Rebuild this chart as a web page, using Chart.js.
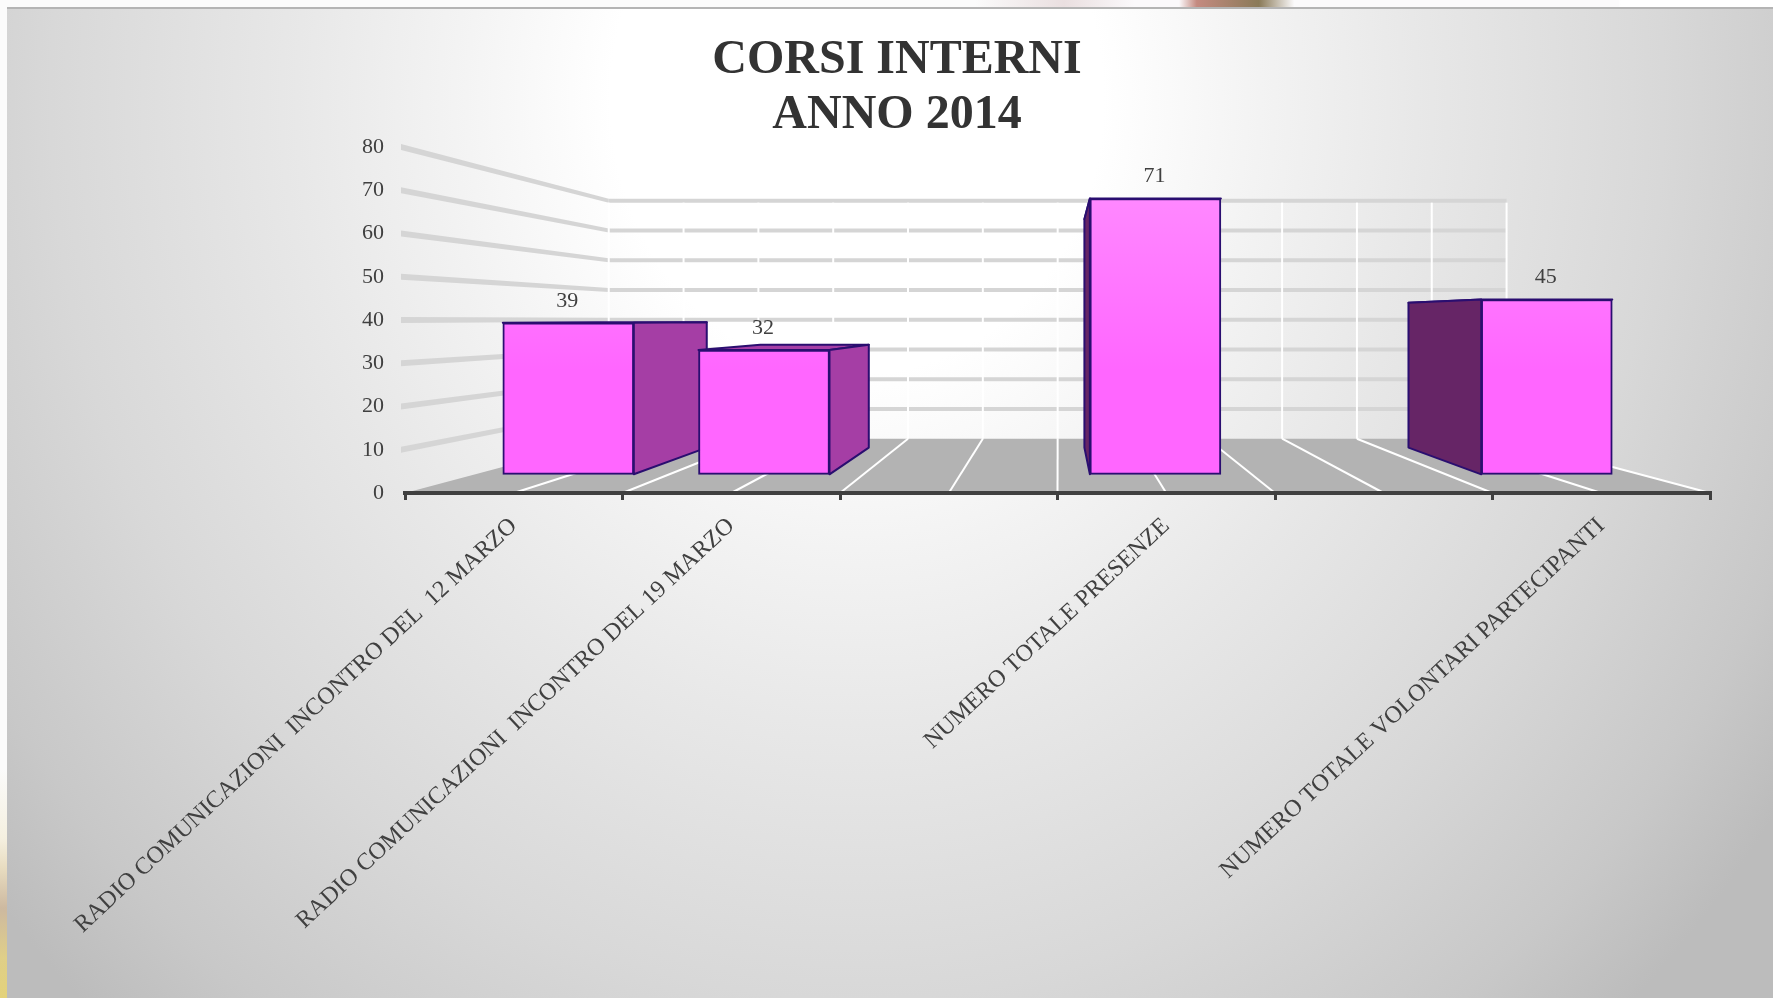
<!DOCTYPE html>
<html>
<head>
<meta charset="utf-8">
<script src="https://cdn.jsdelivr.net/npm/chart.js@4"></script>
<style>
html,body{margin:0;padding:0;width:1773px;height:998px;overflow:hidden;background:#fff}
#topStrip{position:absolute;left:0;top:0;width:1773px;height:7px;background:linear-gradient(90deg,#fbfbfb 0,#fbfbfb 55%,#eadfe0 60%,#fbf9fb 64%,#fbf9fb 66.5%,#c48a80 67.5%,#8a7a58 71%,#fbfafb 73%,#fbfafb 91.3%,#ffffff 91.4%)}
#leftStrip{position:absolute;left:0;top:0;width:7px;height:998px;background:linear-gradient(180deg,#fbfbfb 0,#fbfbfb 77%,#f5f0e0 84%,#e8dcc0 87%,#cdb9a0 91%,#e0cf88 96%,#e3d27a 100%)}
#panel{position:absolute;left:7px;top:7px;width:1766px;height:991px;background:radial-gradient(ellipse 1120px 1250px at 850px 90px,#ffffff 0,#ffffff 22%,#f3f3f3 36%,#e8e8e8 50%,#d8d8d8 72%,#c8c8c8 90%,#bcbcbc 100%);border-top:2px solid #b4b4b4;box-sizing:border-box}
canvas{position:absolute;left:0;top:0}
</style>
</head>
<body>
<div id="topStrip"></div>
<div id="leftStrip"></div>
<div id="panel"></div>
<canvas id="c" width="1773" height="998"></canvas>
<script>
const titleLines = ["CORSI INTERNI", "ANNO 2014"];
const categories = [
  "RADIO COMUNICAZIONI  INCONTRO DEL  12 MARZO",
  "RADIO COMUNICAZIONI  INCONTRO DEL 19 MARZO",
  "",
  "NUMERO TOTALE PRESENZE",
  "",
  "NUMERO TOTALE VOLONTARI PARTECIPANTI"
];
const values = [39, 32, null, 71, null, 45];
const yTicksMax = 80;
const yTicksStep = 10;

const SERIF = "'Liberation Serif', serif";
const TEXT = "#404040";
const GRID = "#d5d5d5";
const VP = {x: 1058, y: 319};      // vanishing point of the 3D view
const ROOM_DEPTH = 0.688;          // scale of the back wall
const BAR_DEPTH = 0.828;           // scale of the back of each bar
const project = (x, y, s) => [VP.x + s * (x - VP.x), VP.y + s * (y - VP.y)];

function poly(ctx, pts, fill, stroke, lw) {
  ctx.beginPath();
  pts.forEach((p, i) => i ? ctx.lineTo(p[0], p[1]) : ctx.moveTo(p[0], p[1]));
  ctx.closePath();
  if (fill) { ctx.fillStyle = fill; ctx.fill(); }
  if (stroke) { ctx.strokeStyle = stroke; ctx.lineWidth = lw; ctx.lineJoin = "round"; ctx.stroke(); }
}
function seg(ctx, a, b, color, lw) {
  ctx.beginPath(); ctx.moveTo(a[0], a[1]); ctx.lineTo(b[0], b[1]);
  ctx.strokeStyle = color; ctx.lineWidth = lw; ctx.stroke();
}

const scene3d = {
  id: "scene3d",
  beforeDatasetsDraw(chart) {
    const {ctx, scales} = chart;
    const xs = scales.x, ys = scales.y;
    const L = xs.left, R = xs.right, B = ys.getPixelForValue(0);
    ctx.save();
    // floor
    poly(ctx, [[L, B], [R, B], project(R, B, ROOM_DEPTH), project(L, B, ROOM_DEPTH)], "#b3b3b3");
    // horizontal grid on the side wall (tapering away) and the back wall
    ys.ticks.forEach(t => {
      if (t.value === 0) return;
      const p = ys.getPixelForValue(t.value);
      const a = project(L, p, ROOM_DEPTH), b = project(R, p, ROOM_DEPTH);
      poly(ctx, [[L - 4, p - 3], [a[0], a[1] - 2], [a[0], a[1] + 2], [L - 4, p + 3]], GRID);
      seg(ctx, a, b, GRID, 4);
    });
    // vertical grid on the back wall + floor grid
    const n = categories.length * 2;
    const topV = ys.getPixelForValue(yTicksMax);
    for (let k = 0; k <= n; k++) {
      const fx = L + (R - L) * k / n;
      const a = project(fx, topV, ROOM_DEPTH), b = project(fx, B, ROOM_DEPTH);
      seg(ctx, [a[0], a[1] + 2], b, "#ffffff", 2);
      if (k > 0) seg(ctx, b, [fx, B], "#ffffff", 2);
    }
    // bar side and top faces
    const els = chart.getDatasetMeta(0).data;
    els.forEach(el => {
      const l = el.x - el.width / 2, r = el.x + el.width / 2;
      const t = el.y, bot = el.base;
      const stroke = "#2a0e70";
      poly(ctx, [[l, t], [r, t], project(r, t, BAR_DEPTH), project(l, t, BAR_DEPTH)], "#a53ea5", stroke, 2);
      if (r < VP.x) {
        poly(ctx, [[r, t], [r, bot], project(r, bot, BAR_DEPTH), project(r, t, BAR_DEPTH)], "#a53ea5", stroke, 2);
      }
      if (l > VP.x) {
        poly(ctx, [[l, t], [l, bot], project(l, bot, BAR_DEPTH), project(l, t, BAR_DEPTH)], "#662566", stroke, 2);
      }
    });
    ctx.restore();
  },
  afterDatasetsDraw(chart) {
    const {ctx} = chart;
    const meta = chart.getDatasetMeta(0);
    ctx.save();
    ctx.font = "22px " + SERIF;
    ctx.fillStyle = TEXT;
    ctx.textAlign = "center";
    ctx.textBaseline = "middle";
    meta.data.forEach((el, i) => {
      ctx.fillText(String(chart.data.datasets[0].data[i].y), el.x - 1, el.y - 22);
    });
    ctx.restore();
  }
};

new Chart(document.getElementById("c"), {
  type: "bar",
  data: {
    labels: categories,
    datasets: [{
      data: values.map((v, i) => ({x: i, y: v})).filter(d => d.y !== null),
      xAxisID: "xBars",
      yAxisID: "yBars",
      barThickness: 131,
      borderWidth: 2,
      borderSkipped: false,
      borderColor: "#2a0e70",
      backgroundColor(ctx) {
        const g = ctx.chart.ctx.createLinearGradient(0, 198, 0, 370);
        g.addColorStop(0, "#ff88ff");
        g.addColorStop(1, "#ff66ff");
        return g;
      }
    }]
  },
  plugins: [scene3d],
  options: {
    responsive: false,
    animation: false,
    events: [],
    layout: {padding: {left: 84, right: 63, top: 33, bottom: 0}},
    plugins: {
      legend: {display: false},
      tooltip: {enabled: false},
      title: {
        display: true,
        text: titleLines,
        color: "#333333",
        font: {family: SERIF, size: 48, weight: "bold", lineHeight: 1.146},
        padding: {top: 0, bottom: 4}
      }
    },
    scales: {
      x: {
        type: "category",
        position: "bottom",
        offset: true,
        afterFit(a) { a.height = 505; },
        grid: {display: true, drawOnChartArea: false, drawTicks: true, tickLength: 7, color: "#404040", lineWidth: 3, z: 1},
        border: {display: true, color: "#404040", width: 4, z: 1},
        ticks: {
          autoSkip: false, minRotation: 43, maxRotation: 43, padding: 12,
          color: TEXT, font: {family: SERIF, size: 24}
        }
      },
      y: {
        type: "linear",
        position: "left",
        min: 0, max: yTicksMax,
        afterFit(a) { a.width = 321; },
        grid: {display: false},
        border: {display: false},
        ticks: {stepSize: yTicksStep, padding: 13, color: TEXT, font: {family: SERIF, size: 22}}
      },
      xBars: {type: "linear", display: false, offset: false, min: -0.8344, max: 5.834},
      yBars: {type: "linear", display: false, min: -4.81, max: 84.25}
    }
  }
});
</script>
</body>
</html>
